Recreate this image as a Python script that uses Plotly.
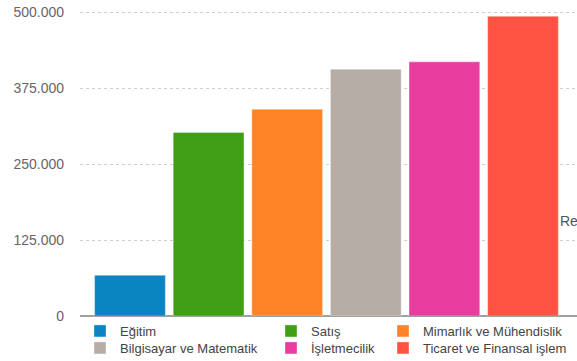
import plotly.graph_objects as go

categories = ["Eğitim", "Satış", "Mimarlık ve Mühendislik",
              "Bilgisayar ve Matematik", "İşletmecilik", "Ticaret ve Finansal işlem"]
values = [67000, 302000, 340000, 406000, 418000, 493000]
colors = ["#0a85c2", "#3f9d16", "#ff8427", "#b5ada6", "#e83d9f", "#fe5343"]
tick_vals = [0, 125000, 250000, 375000, 500000]

W, H = 577, 361
legend_names = ["legend", "legend2", "legend3", "legend4", "legend5", "legend6"]
# legend anchor positions (pixels from left / top of the page)
col_x = [80, 271, 383]
row_y = [316, 333]

fig = go.Figure()
for i, (c, v, col) in enumerate(zip(categories, values, colors)):
    fig.add_trace(go.Bar(
        x=[i], y=[v], name=c, width=0.9,
        marker=dict(color=col, line=dict(color="rgba(255,255,255,0.35)", width=1)),
        legend=legend_names[i],
    ))

legend_font = dict(family="Liberation Sans, Arial, sans-serif", size=13, color="#444")
legends = {}
for i, ln in enumerate(legend_names):
    legends[ln] = dict(orientation="v", xref="container", yref="container",
                       x=col_x[i % 3] / W, y=1 - row_y[i // 3] / H,
                       xanchor="left", yanchor="top",
                       font=legend_font, itemwidth=30, tracegroupgap=0,
                       bgcolor="rgba(0,0,0,0)", borderwidth=0, itemclick=False)

fig.update_layout(
    width=W, height=H,
    margin=dict(l=80, r=0, t=0, b=45, autoexpand=False),
    plot_bgcolor="white", paper_bgcolor="white",
    barmode="overlay",
    separators=",.",
    showlegend=True,
    xaxis=dict(range=[-0.636, 5.687], showticklabels=False, showgrid=False,
               zeroline=False, showline=False, ticks=""),
    yaxis=dict(range=[0, 519737], tickvals=tick_vals, tickformat=",d",
               showgrid=True, gridcolor="#cfcfcf", griddash="dot", gridwidth=1,
               zeroline=True, zerolinecolor="#a0a0a0", zerolinewidth=1.5,
               showline=False, ticks="", ticklabelstandoff=15,
               tickfont=dict(family="Liberation Sans, Arial, sans-serif", size=14, color="#666")),
    annotations=[dict(text="Re", xref="paper", yref="paper",
                      x=(558 - 80) / 497, y=(361 - 45 - 221) / 316,
                      xanchor="left", yanchor="middle", showarrow=False,
                      font=dict(family="Liberation Sans, Arial, sans-serif", size=14, color="#555"))],
    **legends,
)

fig.write_html("out.html")
